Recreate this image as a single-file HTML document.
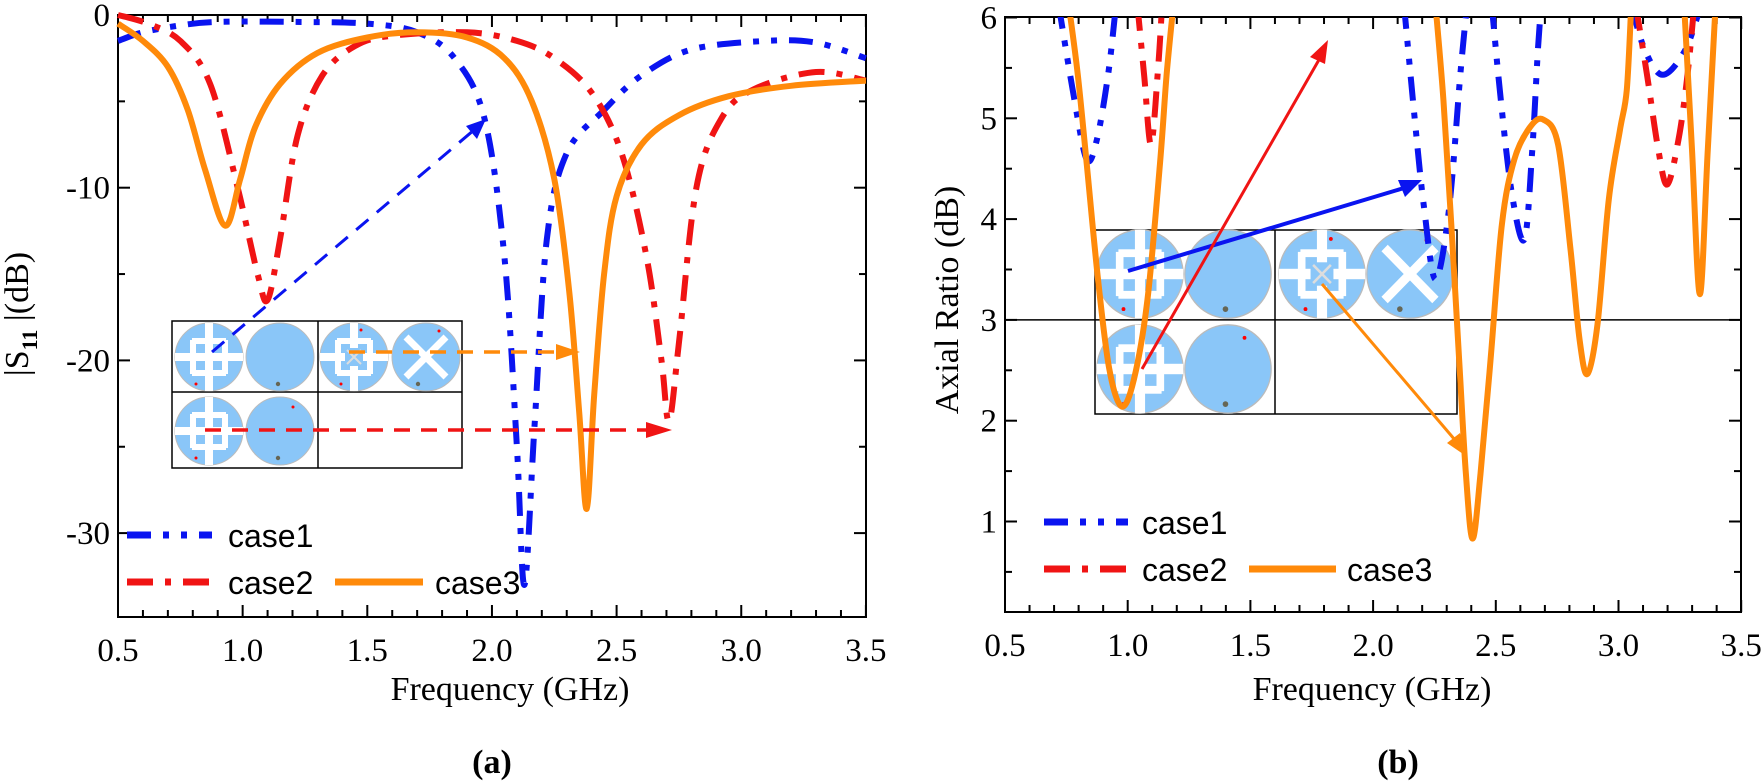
<!DOCTYPE html>
<html><head><meta charset="utf-8"><style>
html,body{margin:0;padding:0;background:#fff}
svg{display:block}
text{font-family:"Liberation Serif",serif;fill:#000}
</style></head><body>
<svg id="s" width="1764" height="782" viewBox="0 0 1764 782" xmlns="http://www.w3.org/2000/svg">
<defs>
<clipPath id="cr"><rect x="1005" y="17" width="736" height="595"/></clipPath>
<g id="c1"><circle r="34" fill="#8ac6f8" stroke="#bbb" stroke-width="1"/><rect x="-4" y="-34" width="8" height="68" fill="#fff"/><rect x="-34" y="-4" width="68" height="8" fill="#fff"/><rect x="-17" y="-19" width="34" height="6" fill="#fff"/><rect x="-17" y="13" width="34" height="6" fill="#fff"/><rect x="-19" y="-17" width="6" height="34" fill="#fff"/><rect x="13" y="-17" width="6" height="34" fill="#fff"/><circle cx="-13" cy="27" r="1.5" fill="red"/></g>
<g id="c2"><circle r="34" fill="#8ac6f8" stroke="#bbb" stroke-width="1"/><circle cx="-2" cy="27" r="2.2" fill="#665"/></g>
<g id="c2b"><circle r="34" fill="#8ac6f8" stroke="#bbb" stroke-width="1"/><circle cx="-2" cy="27" r="2.2" fill="#665"/><circle cx="13" cy="-24" r="1.5" fill="red"/></g>
<g id="c3"><circle r="34" fill="#8ac6f8" stroke="#bbb" stroke-width="1"/><rect x="-34" y="-4" width="68" height="8" fill="#fff"/><rect x="-4" y="-34" width="8" height="68" fill="#fff"/><rect x="-17" y="-19" width="34" height="6" fill="#fff"/><rect x="-17" y="13" width="34" height="6" fill="#fff"/><rect x="-19" y="-17" width="6" height="34" fill="#fff"/><rect x="13" y="-17" width="6" height="34" fill="#fff"/><rect x="-9" y="-9" width="18" height="18" fill="#8ac6f8"/><path d="M-7,-7L7,7M7,-7L-7,7" stroke="#ddd" stroke-width="2"/><circle cx="7" cy="-27" r="1.5" fill="red"/><circle cx="-13" cy="27" r="1.5" fill="red"/></g>
<g id="c4"><circle r="34" fill="#8ac6f8" stroke="#bbb" stroke-width="1"/><path d="M-20,20L20,-20M-20,-20L20,20" stroke="#fff" stroke-width="7"/><circle cx="-8" cy="27" r="2.2" fill="#665"/><circle cx="13" cy="-26" r="1.5" fill="red"/></g>
</defs>
<g id="root"></g>
</svg>
<script>
const NS="http://www.w3.org/2000/svg";
const root=document.getElementById('root');
function el(t,a,txt){const e=document.createElementNS(NS,t);for(const k in a)e.setAttribute(k,a[k]);if(txt!==undefined)e.textContent=txt;root.appendChild(e);return e;}
function smooth(p){let d="M"+p[0][0]+","+p[0][1];for(let i=0;i<p.length-1;i++){const p0=p[Math.max(0,i-1)],p1=p[i],p2=p[i+1],p3=p[Math.min(p.length-1,i+2)];const c1=[p1[0]+(p2[0]-p0[0])/6,p1[1]+(p2[1]-p0[1])/6],c2=[p2[0]-(p3[0]-p1[0])/6,p2[1]-(p3[1]-p1[1])/6];d+=`C${c1[0].toFixed(1)},${c1[1].toFixed(1)} ${c2[0].toFixed(1)},${c2[1].toFixed(1)} ${p2[0].toFixed(1)},${p2[1].toFixed(1)}`;}return d;}
const BLUE="#0a14f0",RED="#f01414",OR="#ff8a0a";
const D1="24 12 6 12 6 12",D2="26 12 6 12";
const FS=33;
const LS='font-family:"Liberation Sans",sans-serif';
function axes(A,xt,yts){
 el('rect',{x:A.x0,y:A.y0,width:A.x1-A.x0,height:A.y1-A.y0,fill:'none',stroke:'#000','stroke-width':2});
 for(let i=0;i<=30;i++){const f=0.5+i*0.1;const x=xt(f);const maj=i%5==0;const l=maj?12:7;
  el('line',{x1:x,y1:A.y1,x2:x,y2:A.y1-l,stroke:'#000','stroke-width':2});el('line',{x1:x,y1:A.y0,x2:x,y2:A.y0+l,stroke:'#000','stroke-width':2});
  if(maj)el('text',{x:x,y:A.y1+44,'font-size':FS,'text-anchor':'middle'},f.toFixed(1));}
 yts.forEach(([y,lab,maj])=>{const l=maj?12:7;el('line',{x1:A.x0,y1:y,x2:A.x0+l,y2:y,stroke:'#000','stroke-width':2});el('line',{x1:A.x1,y1:y,x2:A.x1-l,y2:y,stroke:'#000','stroke-width':2});
  if(lab!==null)el('text',{x:A.x0-8,y:y+11,'font-size':FS,'text-anchor':'end'},lab);});
}
function curve(pts,tx,ty,col,dash,extra){const p=pts.map(q=>[tx(q[0]),ty(q[1])]);const a={d:smooth(p),fill:'none',stroke:col,'stroke-width':6,'stroke-linejoin':'round'};if(dash)a['stroke-dasharray']=dash;if(extra)Object.assign(a,extra);el('path',a);}
// ---------- LEFT ----------
const L={x0:118,x1:866,y0:15,y1:617};
const lx=f=>L.x0+(f-0.5)*249.3, ly=v=>15-v*17.27;
const ltk=[];for(let v=0;v>=-34;v-=5){ltk.push([ly(v),v%10==0?String(v):null,v%10==0]);}
axes(L,lx,ltk);
curve([[0.5,-1.5],[0.6,-1],[0.75,-0.6],[0.9,-0.4],[1.2,-0.4],[1.5,-0.5],[1.7,-1],[1.85,-2.5],[1.97,-6],[2.05,-14],[2.1,-25],[2.13,-33],[2.17,-24],[2.22,-13],[2.3,-8],[2.45,-5.5],[2.6,-3.5],[2.8,-2],[3.1,-1.5],[3.3,-1.6],[3.5,-2.5]],lx,ly,BLUE,D1);
curve([[0.5,0],[0.62,-0.5],[0.75,-1.5],[0.87,-4],[0.98,-10],[1.06,-15],[1.1,-16.5],[1.15,-13],[1.22,-7],[1.32,-3.5],[1.45,-1.8],[1.6,-1.2],[1.9,-1],[2.1,-1.5],[2.25,-2.5],[2.4,-4.5],[2.52,-8],[2.62,-14],[2.68,-20],[2.71,-23.5],[2.75,-19],[2.82,-10],[2.92,-6],[3.05,-4.3],[3.3,-3.3],[3.5,-3.8]],lx,ly,RED,D2);
curve([[0.5,-0.5],[0.6,-1.5],[0.7,-3],[0.78,-5.5],[0.85,-9],[0.93,-12.2],[0.99,-9.5],[1.05,-6.5],[1.15,-4],[1.3,-2.2],[1.5,-1.3],[1.7,-1],[1.9,-1.3],[2.05,-2.5],[2.16,-5],[2.25,-9.5],[2.31,-16],[2.35,-23],[2.38,-28.6],[2.41,-22],[2.45,-15],[2.5,-10.5],[2.6,-7.5],[2.75,-5.8],[2.95,-4.7],[3.2,-4.1],[3.5,-3.8]],lx,ly,OR,null);
// inset left
el('rect',{x:172,y:321,width:290,height:147,fill:'#fff',stroke:'#000','stroke-width':1.5});
el('line',{x1:318,y1:321,x2:318,y2:468,stroke:'#000','stroke-width':1.5});
el('line',{x1:172,y1:392,x2:462,y2:392,stroke:'#000','stroke-width':1.5});
[[209,357,'c1'],[280,357,'c2'],[354,357,'c3'],[426,357,'c4'],[209,431,'c1'],[280,431,'c2b']].forEach(([x,y,i])=>{el('use',{href:'#'+i,x:x,y:y});});
el('line',{x1:212,y1:352,x2:474,y2:130,stroke:BLUE,'stroke-width':3,'stroke-dasharray':'16 11'});
el('path',{d:'M486,119 L466,126 L477,139 Z',fill:BLUE});
el('line',{x1:349,y1:352,x2:558,y2:352,stroke:OR,'stroke-width':3.5,'stroke-dasharray':'16 11'});
el('path',{d:'M580,352 L556,344 L556,360 Z',fill:OR});
el('line',{x1:205,y1:430,x2:648,y2:430,stroke:RED,'stroke-width':3.5,'stroke-dasharray':'16 11'});
el('path',{d:'M672,430 L646,422 L646,438 Z',fill:RED});
el('line',{x1:127,y1:535,x2:212,y2:535,stroke:BLUE,'stroke-width':7,'stroke-dasharray':D1});
el('text',{x:228,y:547,'font-size':32,style:LS},'case1');
el('line',{x1:127,y1:582,x2:216,y2:582,stroke:RED,'stroke-width':7,'stroke-dasharray':D2});
el('text',{x:228,y:594,'font-size':32,style:LS},'case2');
el('line',{x1:335,y1:582,x2:423,y2:582,stroke:OR,'stroke-width':7});
el('text',{x:435,y:594,'font-size':32,style:LS},'case3');
const yl=el('text',{x:0,y:0,'font-size':34,'text-anchor':'middle',transform:'translate(28,314) rotate(-90)'});
yl.innerHTML='|S<tspan font-size="22" dy="9" font-weight="bold">11</tspan><tspan dy="-9"> |(dB)</tspan>';
el('text',{x:510,y:700,'font-size':34,'text-anchor':'middle'},'Frequency (GHz)');
el('text',{x:492,y:773,'font-size':34,'text-anchor':'middle','font-weight':'bold'},'(a)');
// ---------- RIGHT ----------
const R={x0:1005,x1:1741,y0:17,y1:612};
const rx=f=>1005+(f-0.5)*245.4, ry=v=>17.5+(6-v)*100.8;
const rtk=[];for(let v=6;v>=0.49;v-=0.5){const m=Math.abs(v-Math.round(v))<0.01;rtk.push([ry(v),m?String(Math.round(v)):null,m]);}
// inset right (behind curves)
el('rect',{x:1095,y:230,width:362,height:184,fill:'#fff',stroke:'#000','stroke-width':1.5});
el('line',{x1:1275,y1:230,x2:1275,y2:414,stroke:'#000','stroke-width':1.5});
[[1140,274,'c1'],[1228,274,'c2'],[1322,274,'c3'],[1410,274,'c4'],[1140,369,'c1'],[1228,369,'c2b']].forEach(([x,y,i])=>{el('use',{href:'#'+i,transform:`translate(${x},${y}) scale(1.27,1.3)`});});
axes(R,rx,rtk);
el('line',{x1:1005,y1:ry(3),x2:1741,y2:ry(3),stroke:'#000','stroke-width':1.5});
const zx=v=>v*1.125, zy=v=>v*0.4987;
const cl={'clip-path':'url(#cr)'};
const Z=(p,col,dash)=>curve(p,zx,zy,col,dash,cl);
Z([[941,10],[955,200],[966,320],[975,280],[985,150],[992,10]],BLUE,D1);
Z([[1248,10],[1258,250],[1266,420],[1276,560],[1288,420],[1298,150],[1304,10]],BLUE,D1);
Z([[1326,10],[1334,200],[1344,390],[1355,480],[1362,300],[1367,100],[1370,10]],BLUE,D1);
Z([[1450,10],[1462,100],[1478,150],[1498,100],[1512,10]],BLUE,D1);
Z([[1011,10],[1017,150],[1023,290],[1029,150],[1033,10]],RED,D2);
Z([[1454,10],[1464,150],[1474,300],[1482,370],[1492,280],[1500,150],[1506,10]],RED,D2);
Z([[950,10],[958,150],[966,330],[976,560],[986,740],[997,815],[1008,760],[1020,600],[1031,330],[1037,150],[1043,10]],OR,null);
Z([[1276,10],[1283,200],[1290,450],[1297,720],[1303,950],[1309,1080],[1316,950],[1325,720],[1335,450],[1346,320],[1360,255],[1372,240],[1385,290],[1396,500],[1404,680],[1411,750],[1420,650],[1430,400],[1440,260],[1446,180],[1450,10]],OR,null);
Z([[1497,10],[1504,300],[1511,590],[1518,300],[1525,10]],OR,null);
// arrows right
el('line',{x1:1128,y1:271,x2:1404,y2:188,stroke:BLUE,'stroke-width':4});
el('path',{d:'M1422,180 L1398,180 L1405,197 Z',fill:BLUE});
el('line',{x1:1142,y1:369,x2:1320,y2:58,stroke:RED,'stroke-width':3});
el('path',{d:'M1328,40 L1310,57 L1325,64 Z',fill:RED});
el('line',{x1:1322,y1:284,x2:1455,y2:440,stroke:OR,'stroke-width':3});
el('path',{d:'M1466,456 L1447,443 L1460,433 Z',fill:OR});
el('line',{x1:1044,y1:522,x2:1128,y2:522,stroke:BLUE,'stroke-width':7,'stroke-dasharray':D1});
el('text',{x:1142,y:534,'font-size':32,style:LS},'case1');
el('line',{x1:1044,y1:569,x2:1132,y2:569,stroke:RED,'stroke-width':7,'stroke-dasharray':D2});
el('text',{x:1142,y:581,'font-size':32,style:LS},'case2');
el('line',{x1:1249,y1:569,x2:1336,y2:569,stroke:OR,'stroke-width':7});
el('text',{x:1347,y:581,'font-size':32,style:LS},'case3');
el('text',{x:0,y:0,'font-size':34,'text-anchor':'middle',transform:'translate(958,300) rotate(-90)'},'Axial Ratio (dB)');
el('text',{x:1372,y:700,'font-size':34,'text-anchor':'middle'},'Frequency (GHz)');
el('text',{x:1398,y:773,'font-size':34,'text-anchor':'middle','font-weight':'bold'},'(b)');
</script>
</body></html>
